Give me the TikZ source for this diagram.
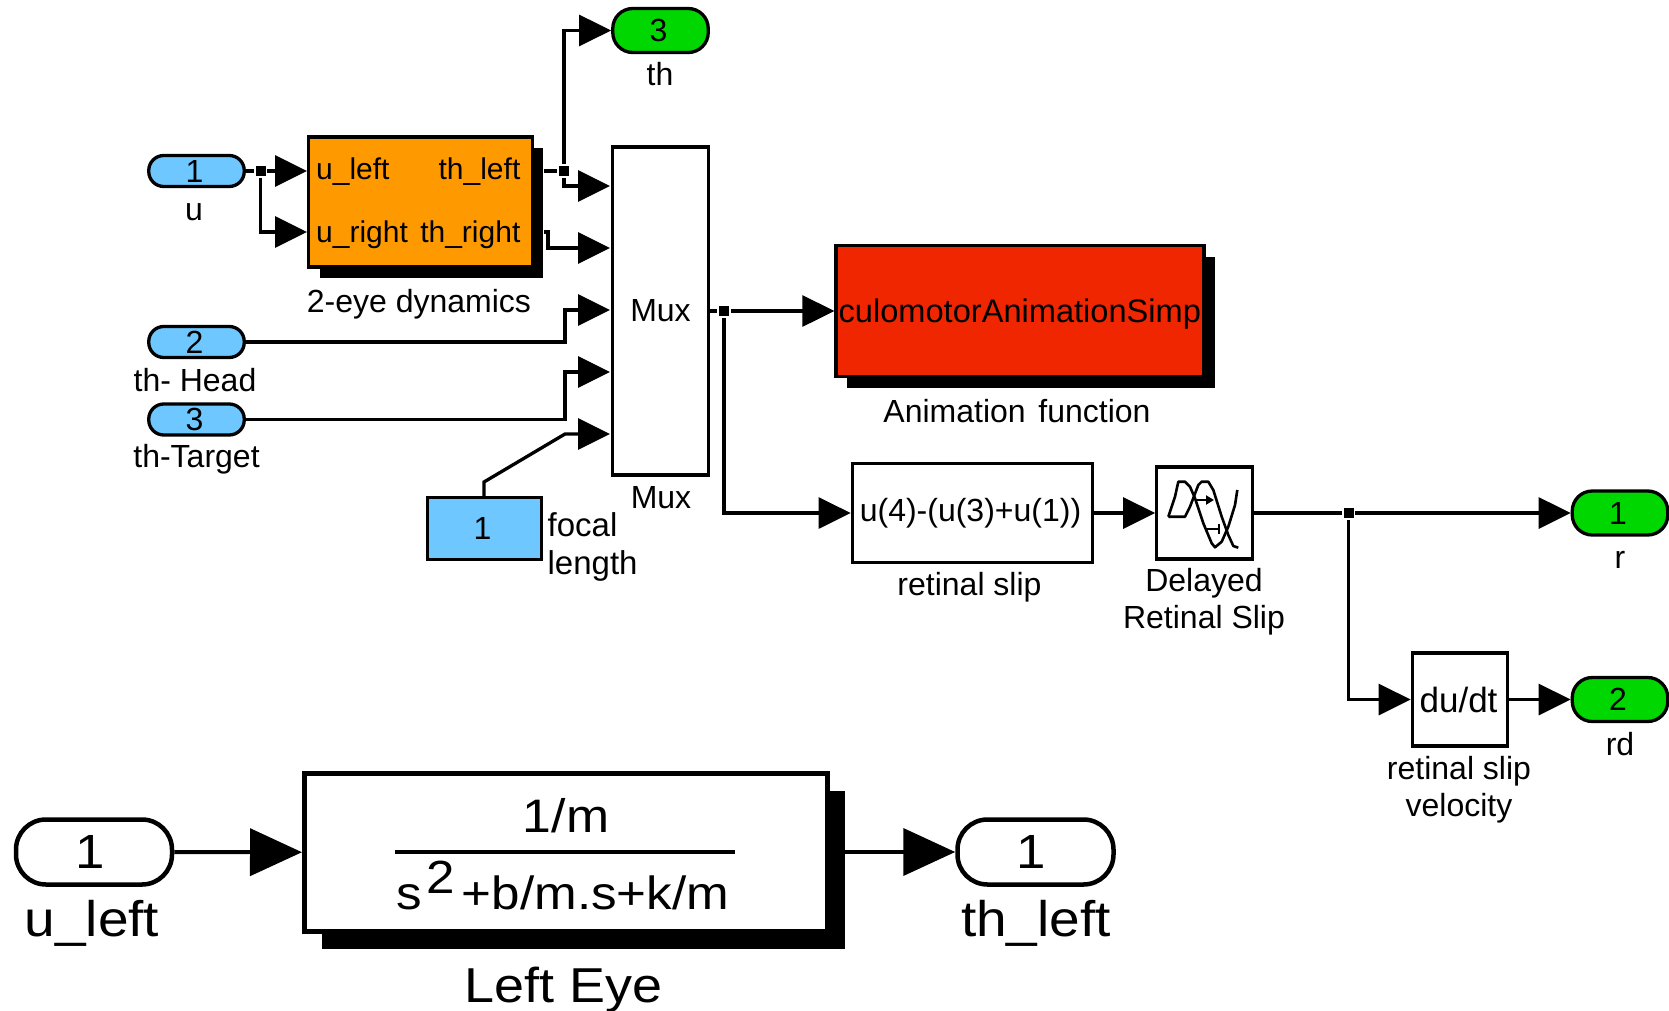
\documentclass[tikz,border=0pt]{standalone}
\usepackage{fontspec}
\setmainfont{Liberation Sans}
\newfontfamily\bigface[FakeStretch=1.1]{Liberation Sans}
\usetikzlibrary{arrows.meta,shadows}

\begin{document}
\begin{tikzpicture}[x=1pt,y=-1pt,line width=3.3pt,
    txt/.style={inner sep=0pt,align=center,font=\fontsize{32}{37}\selectfont},
    port/.style={inner sep=0pt,font=\fontsize{30}{36}\selectfont},
    bigtxt/.style={inner sep=0pt,align=center,font=\bigface\fontsize{50}{56}\selectfont},
    block/.style={draw,rectangle,fill=white,inner sep=0pt,font=\fontsize{32}{37}\selectfont},
    shadowed/.style={general shadow={shadow xshift=#1,shadow yshift=-#1,fill=black}},
    pill/.style={block,rounded corners=15pt,minimum width=95.5pt,minimum height=31pt},
    greenpill/.style={block,rounded corners=20pt,fill=outgreen,minimum width=95.5pt,minimum height=44pt},
    bigpill/.style={block,rounded corners=30pt,line width=4.5pt,font=\bigface\fontsize{48}{56}\selectfont,minimum width=156pt,minimum height=65pt},
    dot/.style={fill=black,inner sep=0pt,minimum size=10pt},
    sig/.style={-{Triangle[length=32pt,width=31pt]}},
    bigsig/.style={line width=4pt,-{Triangle[length=52pt,width=47pt]}}]
    \definecolor{outgreen}{RGB}{0,214,0}
    \definecolor{inblue}{RGB}{110,200,255}
    \definecolor{eyeorange}{RGB}{255,153,0}
    \definecolor{animred}{RGB}{240,38,0}
    \useasboundingbox (0,0) rectangle (1669,1011);

    % top part, left side
    \node[pill,fill=inblue] (u) at (196.5,171) {1\kern4pt};
    \node[txt] at (194,212) {u};
    \node[pill,fill=inblue] (head) at (196.5,342) {2\kern4pt};
    \node[txt] at (195,380) {th- Head};
    \node[pill,fill=inblue] (target) at (196.5,419.5) {3\kern4pt};
    \node[txt] at (196.5,459) {th-Target};
    \node[block,fill=inblue,minimum width=114.5pt,minimum height=61.5pt] (focal) at (484.5,528.5) {1\kern4pt};
    \node[txt,anchor=west,align=left,font=\fontsize{33}{38}\selectfont] at (546,547) {focal\\length};

    % 2-eye dynamics
    \node[block,fill=eyeorange,shadowed=11pt,minimum width=223.5pt,minimum height=130pt] (eyes) at (420.5,202) {};
    \node[port,anchor=west] at (314.5,172) {u\_left};
    \node[port,anchor=west] at (314.5,235) {u\_right};
    \node[port,anchor=east] at (522,172) {th\_left};
    \node[port,anchor=east] at (522,235) {th\_right};
    \node[txt] at (419,304) {2-eye dynamics};

    % mux
    \node[block,minimum width=96pt,minimum height=328pt] (mux) at (660.5,311) {\raisebox{-1pt}{Mux}};
    \node[txt] at (661,498) {Mux};
    \node[greenpill] (th) at (660.5,30.5) {3\kern4pt};
    \node[txt] at (660,74) {th};

    % animation block
    \node[block,fill=animred,shadowed=11pt,minimum width=368pt,minimum height=131pt] (anim) at (1020,311) {};
    \begin{scope}
        \clip (830,240) rectangle (1214,390);
        \node[txt,anchor=west,font=\fontsize{32.6}{38}\selectfont] at (837,314) {culomotorAnimationSimple};
    \end{scope}
    \node[txt] at (1017,411) {Animation\hspace{0.4em}function};

    % retinal slip row
    \node[block,minimum width=240.5pt,minimum height=98.5pt] (slip) at (972.5,513) {\raisebox{-4pt}{u(4)-(u(3)+u(1))}\kern4pt};
    \node[txt] at (969.5,587) {retinal slip};
    \node[block,minimum width=95.5pt,minimum height=92pt] (delay) at (1204.5,513) {};
    \node[txt] at (1204,602) {Delayed\\Retinal Slip};
    \node[block,minimum width=95.5pt,minimum height=93pt,font=\fontsize{35}{37}\selectfont] (deriv) at (1460,699.5) {du/dt\kern3pt};
    \node[txt] at (1459,790) {retinal slip\\velocity};
    \node[greenpill] (r) at (1620,513) {1\kern4pt};
    \node[txt] at (1620,560) {r};
    \node[greenpill] (rd) at (1620,699.5) {2\kern4pt};
    \node[txt] at (1620,744) {rd};

    % delay icon
    \begin{scope}[shift={(1150,460)},line join=round]
        \draw[line width=2.6pt] (18.3,56.7) -- (25,36.7) -- (28.3,21.7) -- (35,21.7) -- (40,26.7) -- (45,38.3) -- (53.3,63.3) -- (61.7,83.3) -- (65,87.3) -- (71.7,81.7) -- (78.3,66.7) -- (85,45) -- (87.3,30);
        \draw[line width=2.6pt] (18.3,56.7) -- (35,56.7) -- (40,46.7) -- (48.3,25) -- (51.7,21.7) -- (58.3,21.7) -- (63.3,30) -- (71.7,56.7) -- (78.3,75) -- (83.3,86) -- (88.3,87.7);
        \draw[line width=2pt,-{Triangle[length=8pt,width=9pt]}] (45,40) -- (64,40);
        \draw[line width=2pt,-{Bar[width=10pt]}] (57,69.3) -- (70,69.3);
    \end{scope}

    % bottom part
    \node[bigpill] (uleft) at (94,852) {1\kern8pt};
    \node[bigtxt] at (92,923) {u\_left};
    \node[block,line width=5pt,shadowed=17pt,minimum width=523pt,minimum height=158pt] (lefteye) at (566,852.5) {};
    \node[bigtxt,font=\bigface\fontsize{47}{56}\selectfont] (numer) at (566,816) {1/m};
    \draw[line width=4pt] (395,852) -- (735,852);
    \node[bigtxt,font=\bigface\fontsize{46.5}{56}\selectfont] (denom) at (563,885) {s\kern4pt\raisebox{16pt}{2}\kern7pt+b/m.s+k/m};
    \node[bigtxt,font=\bigface\fontsize{49}{56}\selectfont] at (563.6,990) {Left Eye};
    \node[bigpill] (thleft) at (1035.5,852) {1\kern8pt};
    \node[bigtxt] at (1036,923) {th\_left};

    % junctions and ports
    \node[dot] (ju) at (260.5,171) {};
    \node[dot] (jth) at (564,171) {};
    \node[dot] (jmux) at (724,311) {};
    \node[dot] (jslip) at (1348.5,513) {};
    \coordinate (eyea) at (307,171);
    \coordinate (eyeb) at (307,232);
    \coordinate (outa) at (544,171);
    \coordinate (outb) at (544,232);
    \coordinate (muxa) at (610,186);
    \coordinate (muxb) at (610,248);
    \coordinate (muxc) at (610,310);
    \coordinate (muxd) at (610,372);
    \coordinate (muxe) at (610,434);
    \coordinate (lefteyeout) at (845,852);

    % connectors
    \draw (u) -- (ju);
    \draw[sig] (ju) -- (eyea);
    \draw[sig] (ju) |- (eyeb);
    \draw (outa) -- (jth);
    \draw[sig] (jth) |- (th.west);
    \draw[sig] (jth) |- (muxa);
    \draw[sig] (outb) -- (548,232) |- (muxb);
    \draw[sig] (head) -| (565,310) -- (muxc);
    \draw[sig] (target) -| (565,372) -- (muxd);
    \draw[sig] (484,497) -- (484,482) -- (565,434) -- (muxe);
    \draw (mux) -- (jmux);
    \draw[sig] (jmux) -- (anim);
    \draw[sig] (jmux) |- (slip.west);
    \draw[sig] (slip) -- (delay);
    \draw (delay) -- (jslip);
    \draw[sig] (jslip) -- (r);
    \draw[sig] (jslip) |- (deriv.west);
    \draw[sig] (deriv) -- (rd);
    \draw[bigsig] (uleft) -- (lefteye);
    \draw[bigsig] (lefteyeout) -- (thleft);
\end{tikzpicture}
\end{document}
